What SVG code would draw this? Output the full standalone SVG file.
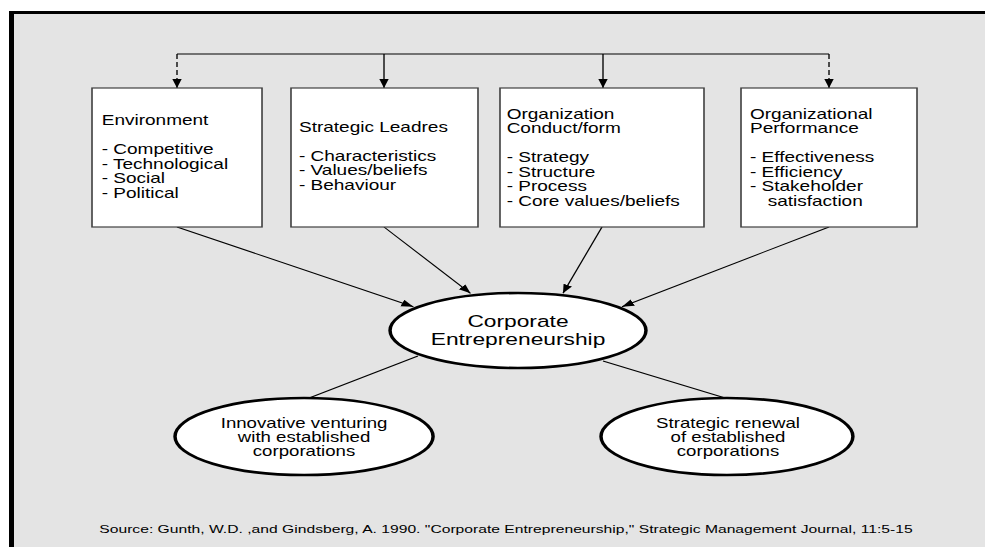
<svg xmlns="http://www.w3.org/2000/svg" width="985" height="547" viewBox="0 0 985 547">
  <defs>
    <style>
      text { font-family: "Liberation Sans", Arial, sans-serif; fill: #000; }
      .box { fill: #fff; stroke: #404040; stroke-width: 1.2; }
      .oval { fill: #fff; stroke: #000; stroke-width: 2.6; }
      .lbl { font-size: 14.2px; }
      .big { font-size: 17px; text-anchor: middle; }
      .sub { font-size: 13.9px; text-anchor: middle; }
      .src { font-size: 10px; text-anchor: middle; }
      .ln { stroke: #000; stroke-width: 1; fill: none; }
      .dash { stroke-dasharray: 5 3; }
    </style>
    <marker id="arrow" markerUnits="userSpaceOnUse" markerWidth="10" markerHeight="8" refX="9" refY="3.5" orient="auto">
      <path d="M0,0 L9,3.5 L0,7 z" fill="#000"/>
    </marker>
  </defs>

  <!-- page frame -->
  <rect x="0" y="0" width="985" height="547" fill="#fff"/>
  <rect x="9" y="11" width="976" height="536" fill="#000"/>
  <rect x="14" y="14" width="971" height="533" fill="#e4e4e4"/>

  <!-- slide content, stretched horizontally -->
  <g transform="scale(1.34 1)">
    <g id="connectors">
      <path class="ln" d="M132.09,54 H618.66"/>
      <path class="ln dash" d="M132.09,54 V88" marker-end="url(#arrow)"/>
      <path class="ln" d="M286.57,54 V88" marker-end="url(#arrow)"/>
      <path class="ln" d="M450,54 V88" marker-end="url(#arrow)"/>
      <path class="ln dash" d="M618.66,54 V88" marker-end="url(#arrow)"/>
      <path class="ln" d="M132.09,227 L308.5,306.7" marker-end="url(#arrow)"/>
      <path class="ln" d="M286.57,227 L351.1,293.3" marker-end="url(#arrow)"/>
      <path class="ln" d="M449.25,227 L420.15,293.3" marker-end="url(#arrow)"/>
      <path class="ln" d="M618.66,227 L464.18,306.7" marker-end="url(#arrow)"/>
      <path class="ln" d="M311.87,356 L230.22,398.3"/>
      <path class="ln" d="M450,361 L541.8,398.3"/>
    </g>

    <g id="environment">
      <rect class="box" x="68.66" y="88" width="126.87" height="139"/>
      <text class="lbl" x="75.9" y="125.5">Environment</text>
      <text class="lbl" x="75.9" y="154.5">- Competitive</text>
      <text class="lbl" x="75.9" y="169">- Technological</text>
      <text class="lbl" x="75.9" y="183.5">- Social</text>
      <text class="lbl" x="75.9" y="198">- Political</text>
    </g>

    <g id="strategic-leaders">
      <rect class="box" x="217.16" y="88" width="139.55" height="139"/>
      <text class="lbl" x="223.1" y="132">Strategic Leadres</text>
      <text class="lbl" x="223.1" y="161">- Characteristics</text>
      <text class="lbl" x="223.1" y="175.5">- Values/beliefs</text>
      <text class="lbl" x="223.1" y="190">- Behaviour</text>
    </g>

    <g id="organization-conduct">
      <rect class="box" x="373.13" y="88" width="152.24" height="139"/>
      <text class="lbl" x="378.1" y="119">Organization</text>
      <text class="lbl" x="378.1" y="133.5">Conduct/form</text>
      <text class="lbl" x="378.1" y="162.5">- Strategy</text>
      <text class="lbl" x="378.1" y="177">- Structure</text>
      <text class="lbl" x="378.1" y="191.5">- Process</text>
      <text class="lbl" x="378.1" y="206">- Core values/beliefs</text>
    </g>

    <g id="organizational-performance">
      <rect class="box" x="552.99" y="88" width="131.34" height="139"/>
      <text class="lbl" x="559.7" y="119">Organizational</text>
      <text class="lbl" x="559.7" y="133.5">Performance</text>
      <text class="lbl" x="559.7" y="162.5">- Effectiveness</text>
      <text class="lbl" x="559.7" y="177">- Efficiency</text>
      <text class="lbl" x="559.7" y="191.5">- Stakeholder</text>
      <text class="lbl" x="572.9" y="206">satisfaction</text>
    </g>

    <g id="corporate-entrepreneurship">
      <ellipse class="oval" cx="386.57" cy="330.5" rx="95.5" ry="37.5"/>
      <text class="big" x="386.57" y="327">Corporate</text>
      <text class="big" x="386.57" y="345">Entrepreneurship</text>
    </g>

    <g id="innovative-venturing">
      <ellipse class="oval" cx="226.9" cy="436.5" rx="96.3" ry="38.5"/>
      <text class="sub" x="226.9" y="428">Innovative venturing</text>
      <text class="sub" x="226.9" y="442.1">with established</text>
      <text class="sub" x="226.9" y="456.2">corporations</text>
    </g>

    <g id="strategic-renewal">
      <ellipse class="oval" cx="542.5" cy="436.5" rx="94" ry="38.5"/>
      <text class="sub" x="543.3" y="428">Strategic renewal</text>
      <text class="sub" x="543.3" y="442.1">of established</text>
      <text class="sub" x="543.3" y="456.2">corporations</text>
    </g>

    <text class="src" x="377.6" y="533" textLength="607" lengthAdjust="spacingAndGlyphs">Source:  Gunth, W.D. ,and Gindsberg, A. 1990.  "Corporate Entrepreneurship," Strategic Management Journal, 11:5-15</text>
  </g>
</svg>
